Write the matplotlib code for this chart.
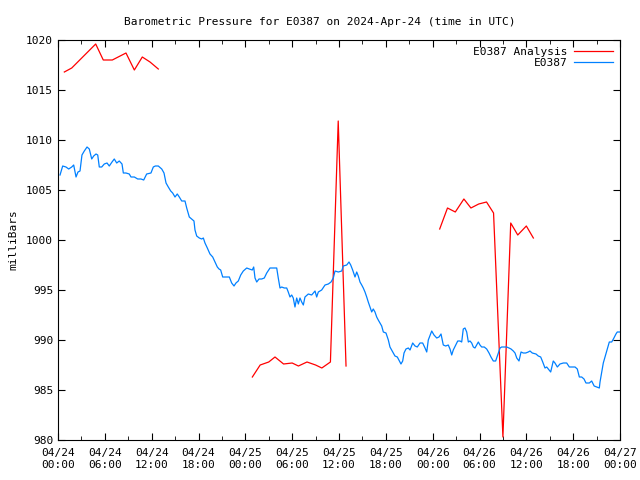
import numpy as np
import matplotlib
matplotlib.use("Agg")
import matplotlib.pyplot as plt

# hours since 2024-04-24 00:00 UTC
obs_hours = [0.26, 0.60, 1.02, 1.37, 1.76, 2.01, 2.31, 2.56, 2.82, 3.07, 3.37, 3.72, 4.01, 4.32,
             4.57, 4.87, 5.09, 5.29, 5.60, 5.93, 6.28, 6.57, 6.92, 7.21, 7.52, 7.85, 8.20, 8.37,
             8.71, 9.13, 9.35, 9.78, 10.21, 10.63, 10.98, 11.36, 11.91, 12.21, 12.47, 12.85,
             13.29, 13.58, 13.84, 14.13, 14.44, 14.69, 14.99, 15.28, 15.54, 15.85, 16.27, 16.49,
             16.82, 17.13, 17.42, 17.55, 17.77, 18.10, 18.41, 18.62, 18.83, 19.13, 19.47, 19.82,
             20.11, 20.41, 20.63, 20.84, 21.10, 21.39, 21.69, 21.95, 22.25, 22.55, 22.80, 23.10,
             23.41, 23.74, 24.18, 24.51, 24.89, 25.07, 25.24, 25.46, 25.75, 26.10, 26.43, 26.74,
             27.16, 27.58, 28.02, 28.22, 28.44, 28.66, 28.99, 29.30, 29.50, 29.72, 29.94, 30.14,
             30.36, 30.58, 30.79, 31.00, 31.22, 31.43, 31.64, 32.07, 32.50, 32.93, 33.14, 33.35,
             33.78, 34.21, 34.63, 34.98, 35.27, 35.49, 35.91, 36.35, 36.55, 36.99, 37.28, 37.50,
             37.75, 38.05, 38.27, 38.47, 38.69, 38.91, 39.11, 39.33, 39.55, 39.75, 39.97, 40.19,
             40.39, 40.61, 40.83, 41.03, 41.25, 41.47, 41.68, 42.02, 42.32, 42.53, 42.88, 43.17,
             43.47, 43.73, 43.94, 44.16, 44.33, 44.58, 44.88, 45.10, 45.44, 45.74, 46.03, 46.38,
             46.72, 47.02, 47.24, 47.44, 47.88, 48.17, 48.52, 48.81, 49.07, 49.36, 49.67, 50.00,
             50.22, 50.44, 50.64, 50.95, 51.21, 51.50, 51.72, 51.92, 52.14, 52.36, 52.57, 52.78,
             53.00, 53.21, 53.42, 53.64, 53.85, 54.06, 54.28, 54.61, 54.92, 55.22, 55.47, 55.77,
             56.07, 56.33, 56.63, 56.84, 57.18, 57.48, 57.78, 58.04, 58.33, 58.55, 58.77, 59.06,
             59.32, 59.61, 59.92, 60.25, 60.47, 60.76, 61.24, 61.53, 61.84, 62.10, 62.39, 62.61,
             62.81, 63.12, 63.45, 63.67, 63.97, 64.31, 64.74, 65.17, 65.51, 65.81, 66.24, 66.53,
             66.79, 67.09, 67.39, 67.64, 68.07, 68.37, 68.69, 69.01, 69.35, 69.44, 69.66, 69.86,
             70.08, 70.37, 70.63, 70.94, 71.22, 71.48, 71.65, 72.00]
obs_mb = [1006.5, 1007.4, 1007.3, 1007.1, 1007.3, 1007.5, 1006.3, 1006.8, 1006.9, 1008.5, 1008.9,
          1009.3, 1009.1, 1008.1, 1008.4, 1008.6, 1008.5, 1007.3, 1007.3, 1007.6, 1007.7, 1007.4,
          1007.8, 1008.1, 1007.7, 1007.9, 1007.6, 1006.7, 1006.7, 1006.6, 1006.3, 1006.3, 1006.1,
          1006.1, 1006.0, 1006.6, 1006.7, 1007.3, 1007.4, 1007.4, 1007.1, 1006.7, 1005.7, 1005.3,
          1004.9, 1004.7, 1004.3, 1004.6, 1004.3, 1003.9, 1003.9, 1003.2, 1002.3, 1002.1, 1001.9,
          1001.0, 1000.4, 1000.2, 1000.1, 1000.2, 999.7, 999.2, 998.6, 998.3, 997.8, 997.3, 997.1,
          997.0, 996.3, 996.3, 996.3, 996.3, 995.7, 995.4, 995.7, 995.9, 996.5, 996.9, 997.2,
          997.1, 997.0, 997.3, 996.2, 995.8, 996.1, 996.1, 996.2, 996.7, 997.2, 997.2, 997.2,
          996.2, 995.2, 995.3, 995.2, 995.2, 994.8, 994.3, 994.5, 994.2, 993.3, 994.2, 993.6,
          994.2, 993.8, 993.5, 994.3, 994.6, 994.5, 994.9, 994.3, 994.8, 995.0, 995.5, 995.6,
          995.8, 996.2, 996.9, 996.8, 996.9, 997.4, 997.5, 997.8, 997.5, 997.0, 996.3, 996.8,
          996.4, 995.8, 995.5, 995.2, 994.8, 994.3, 993.8, 993.3, 992.8, 993.1, 992.8, 992.3,
          992.0, 991.7, 991.4, 990.8, 990.7, 990.0, 989.3, 988.8, 988.4, 988.3, 987.9, 987.6,
          987.9, 988.7, 989.1, 989.2, 989.0, 989.7, 989.4, 989.3, 989.7, 989.7, 989.2, 988.8,
          990.0, 990.9, 990.5, 990.2, 990.3, 990.6, 989.5, 989.4, 989.5, 989.1, 988.5, 989.0,
          989.5, 989.9, 989.9, 989.8, 991.1, 991.2, 990.8, 989.8, 989.9, 989.7, 989.3, 989.2,
          989.5, 989.8, 989.5, 989.3, 989.3, 989.1, 988.7, 988.3, 987.9, 987.9, 988.5, 989.2,
          989.3, 989.3, 989.3, 989.2, 989.1, 988.9, 988.7, 988.2, 987.9, 988.8, 988.7, 988.7,
          988.8, 988.9, 988.7, 988.6, 988.4, 988.3, 987.8, 987.2, 987.3, 987.1, 986.8, 987.9,
          987.7, 987.3, 987.6, 987.7, 987.7, 987.3, 987.3, 987.3, 987.1, 986.3, 986.3, 986.1,
          985.7, 985.7, 985.9, 985.4, 985.3, 985.2, 985.8, 986.8, 987.7, 988.3, 989.1, 989.8,
          989.8, 990.2, 990.6, 990.8, 990.8]

# analysis series, nan marks the gaps between runs
ana_hours = [0.81, 1.76, 2.40, 4.83, 5.80, 6.96, 8.71, 9.78, 10.80, 11.79, 12.85, 13.5,
             24.9, 25.9, 27.0, 27.8, 28.9, 30.0, 30.8, 31.9, 33.0, 33.8, 34.9, 35.9, 36.9, 37.5,
             48.9, 49.9, 50.9, 52.0, 52.9, 53.9, 54.9, 55.8, 57.0, 58.0, 58.9, 60.0, 60.9]
ana_mb = [1016.8, 1017.2, 1017.7, 1019.6, 1018.0, 1018.0, 1018.7, 1017.0, 1018.3, 1017.8, 1017.1, np.nan,
          986.3, 987.5, 987.8, 988.3, 987.6, 987.7, 987.4, 987.8, 987.5, 987.2, 987.8, 1011.9, 987.4, np.nan,
          1001.1, 1003.2, 1002.8, 1004.1, 1003.2, 1003.6, 1003.8, 1002.7, 980.3, 1001.7, 1000.5, 1001.4, 1000.2]

tick_hours = list(range(0, 73, 6))
tick_labels = ["04/24\n00:00", "04/24\n06:00", "04/24\n12:00", "04/24\n18:00",
               "04/25\n00:00", "04/25\n06:00", "04/25\n12:00", "04/25\n18:00",
               "04/26\n00:00", "04/26\n06:00", "04/26\n12:00", "04/26\n18:00",
               "04/27\n00:00"]

plt.rcParams['font.family'] = ['DejaVu Sans Mono']
plt.rcParams['font.size'] = 8

fig = plt.figure(figsize=(6.4, 4.8), dpi=100)
ax = fig.add_axes([58/640, 40/480, 562/640, 400/480])

ax.plot(ana_hours, ana_mb, color='#ff0000', lw=0.9, label='E0387 Analysis')
ax.plot(obs_hours, obs_mb, color='#0080ff', lw=0.9, label='E0387')

ax.set_xlim(0, 72)
ax.set_ylim(980, 1020)
ax.set_xticks(tick_hours)
ax.set_xticklabels(tick_labels)
ax.set_xticks(np.arange(3, 72, 6), minor=True)
ax.set_yticks(np.arange(980, 1021, 5))
ax.tick_params(which='both', direction='in', top=True, right=True, labelsize=8)
ax.tick_params(which='major', length=5)
ax.tick_params(which='minor', length=3)
ax.tick_params(axis='x', pad=6)

ax.set_ylabel('milliBars', fontsize=8)
ax.yaxis.set_label_coords(-0.07, 0.5)
fig.suptitle('Barometric Pressure for E0387 on 2024-Apr-24 (time in UTC)', y=0.965, fontsize=8)

ax.legend(loc='upper right', frameon=False, markerfirst=False, fontsize=8,
          handlelength=3.5, handletextpad=0.6, borderaxespad=0.2, labelspacing=0.1)

fig.savefig('out.png', dpi=100)
